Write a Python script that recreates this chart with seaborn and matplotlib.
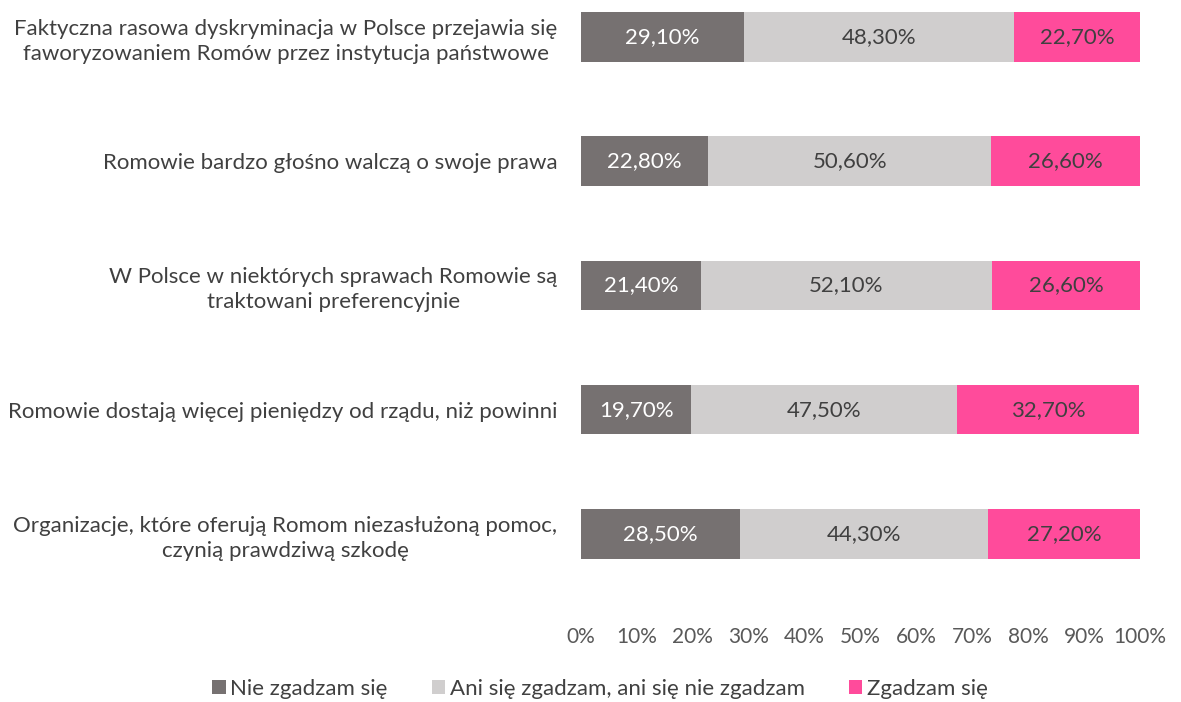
import pandas as pd
import matplotlib.pyplot as plt
import seaborn as sns
from matplotlib.patches import Patch

# data
statements = [
    "Faktyczna rasowa dyskryminacja w Polsce przejawia się\nfaworyzowaniem Romów przez instytucja państwowe",
    "Romowie bardzo głośno walczą o swoje prawa",
    "W Polsce w niektórych sprawach Romowie są\ntraktowani preferencyjnie",
    "Romowie dostają więcej pieniędzy od rządu, niż powinni",
    "Organizacje, które oferują Romom niezasłużoną pomoc,\nczynią prawdziwą szkodę",
]
disagree = [29.1, 22.8, 21.4, 19.7, 28.5]
neutral = [48.3, 50.6, 52.1, 47.5, 44.3]
agree = [22.7, 26.6, 26.6, 32.7, 27.2]
series_names = ["Nie zgadzam się", "Ani się zgadzam, ani się nie zgadzam", "Zgadzam się"]
colors = ["#767171", "#D0CECE", "#FF4B9B"]
text_colors = ["white", "#404040", "#404040"]

sns.set_style("white")
plt.rcParams['font.family'] = ['Lato', 'DejaVu Sans']
FS = 16

df = pd.DataFrame({"statement": statements, "disagree": disagree,
                   "neutral": neutral, "agree": agree})
df["cum1"] = df["disagree"]
df["cum2"] = df["disagree"] + df["neutral"]
df["cum3"] = df["cum2"] + df["agree"]

fig = plt.figure(figsize=(11.81, 7.02), dpi=100)
ax = fig.add_axes([581 / 1181, 1 - 596 / 702, (1140 - 581) / 1181, (596 - 12) / 702])

# stacked bars: draw cumulative totals from longest to shortest
for col, c in zip(["cum3", "cum2", "cum1"], colors[::-1]):
    sns.barplot(data=df, x=col, y="statement", color=c, width=0.4,
                orient="h", ax=ax, saturation=1, edgecolor="none")

# value labels
for i, row in df.iterrows():
    starts = [0, row["cum1"], row["cum2"]]
    vals = [row["disagree"], row["neutral"], row["agree"]]
    for s, v, tc in zip(starts, vals, text_colors):
        ax.text(s + v / 2, i, f"{v:.2f}%".replace(".", ","), ha="center",
                va="center", color=tc, fontsize=FS)

ax.set_xlim(0, 100)
ax.set_ylim(4.5, -0.2)
ax.set_xticks(range(0, 101, 10))
ax.set_xticklabels([f"{t}%" for t in range(0, 101, 10)], fontsize=15, color="#595959")
ax.tick_params(axis="x", length=0, pad=22)
ax.tick_params(axis="y", length=0, pad=17)
for lab in ax.get_yticklabels():
    lab.set_fontsize(FS)
    lab.set_color("#404040")
    lab.set_multialignment("center")
    lab.set_linespacing(1.3)
ax.set_xlabel("")
ax.set_ylabel("")
sns.despine(ax=ax, left=True, bottom=True)

handles = [Patch(facecolor=c, edgecolor="none") for c in colors]
fig.legend(handles, series_names, loc="center", bbox_to_anchor=(600 / 1181, 1 - 689 / 702),
           ncol=3, frameon=False, fontsize=FS, handlelength=0.6, handleheight=0.6,
           handletextpad=0.2, columnspacing=2.0, labelcolor="#404040")

plt.savefig("out.png", dpi=100)
